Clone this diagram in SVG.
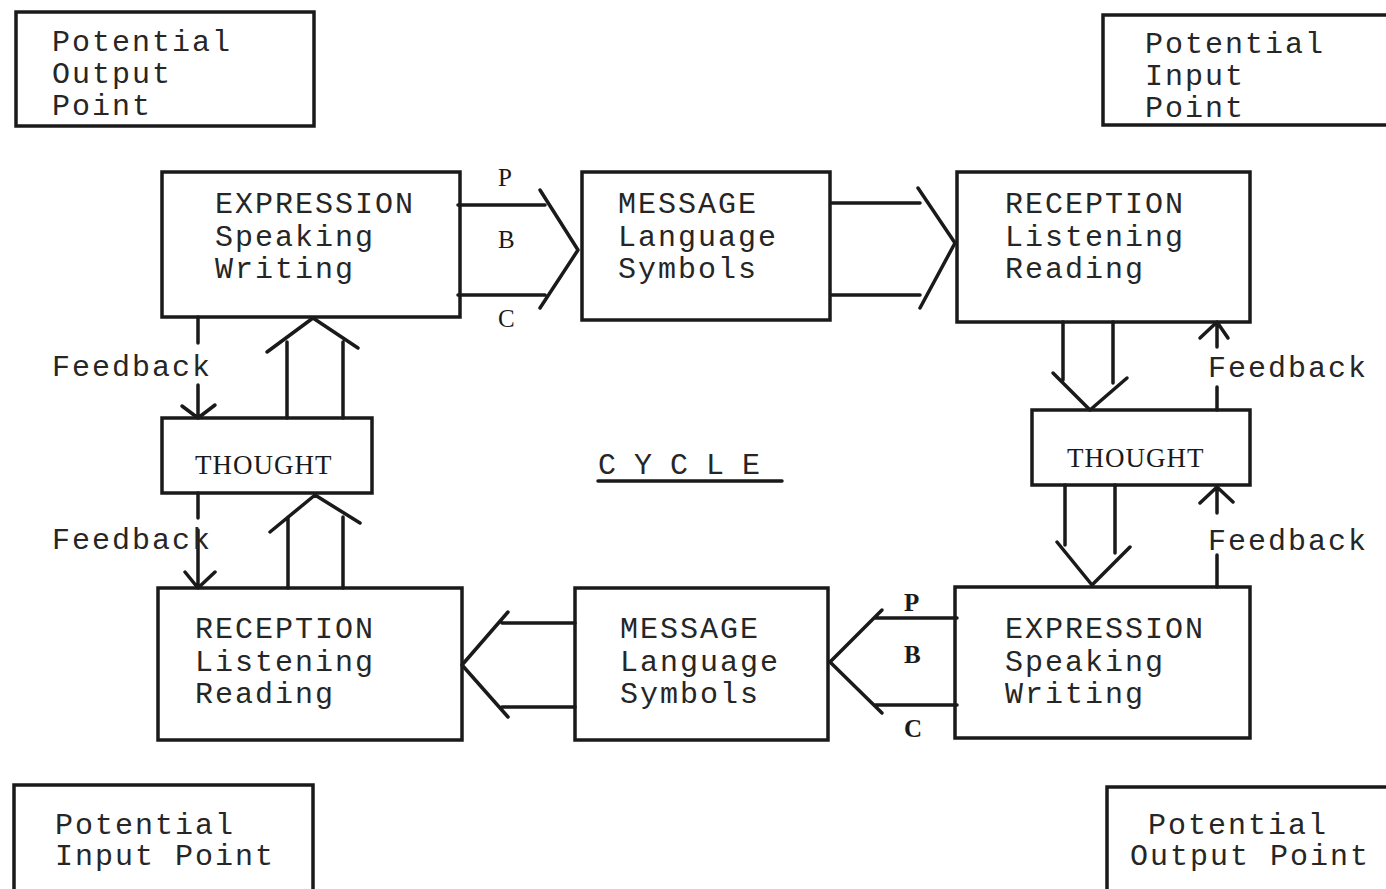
<svg xmlns="http://www.w3.org/2000/svg" width="1386" height="889" viewBox="0 0 1386 889">
<defs>
<style>
.box{fill:none;stroke:#1a1a1a;stroke-width:3.5}
.ln{fill:none;stroke:#1a1a1a;stroke-width:3.5;stroke-linecap:round;stroke-linejoin:round}
.t{font-family:"Liberation Mono","DejaVu Sans Mono",monospace;font-size:30px;letter-spacing:2px;fill:#262626}
.b{font-family:"Liberation Serif","DejaVu Serif",serif;font-size:27px;letter-spacing:1px;fill:#1a1a1a}
.s{font-family:"Liberation Serif","DejaVu Serif",serif;font-size:25px;fill:#1a1a1a}
.sb{font-family:"Liberation Serif","DejaVu Serif",serif;font-size:25px;font-weight:bold;fill:#1a1a1a}
</style>
</defs>
<rect x="0" y="0" width="1386" height="889" fill="#ffffff"/>

<g id="out-top-left">
<rect class="box" x="16" y="12" width="298" height="114"/>
<text class="t" x="52" y="51">Potential</text>
<text class="t" x="52" y="83">Output</text>
<text class="t" x="52" y="115">Point</text>
</g>
<g id="in-top-right">
<rect class="box" x="1103" y="15" width="300" height="110"/>
<text class="t" x="1145" y="53">Potential</text>
<text class="t" x="1145" y="85">Input</text>
<text class="t" x="1145" y="117">Point</text>
</g>
<g id="in-bottom-left">
<rect class="box" x="14" y="785" width="299" height="120"/>
<text class="t" x="55" y="834">Potential</text>
<text class="t" x="55" y="865">Input Point</text>
</g>
<g id="out-bottom-right">
<rect class="box" x="1107" y="787" width="300" height="120"/>
<text class="t" x="1148" y="834">Potential</text>
<text class="t" x="1130" y="865">Output Point</text>
</g>

<g id="expression-top">
<rect class="box" x="162" y="172" width="298" height="145"/>
<text class="t" x="215" y="213">EXPRESSION</text>
<text class="t" x="215" y="246">Speaking</text>
<text class="t" x="215" y="278">Writing</text>
</g>
<g id="message-top">
<rect class="box" x="582" y="172" width="248" height="148"/>
<text class="t" x="618" y="213">MESSAGE</text>
<text class="t" x="618" y="246">Language</text>
<text class="t" x="618" y="278">Symbols</text>
</g>
<g id="reception-top">
<rect class="box" x="957" y="172" width="293" height="150"/>
<text class="t" x="1005" y="213">RECEPTION</text>
<text class="t" x="1005" y="246">Listening</text>
<text class="t" x="1005" y="278">Reading</text>
</g>
<g id="thought-left">
<rect class="box" x="162" y="418" width="210" height="75"/>
<text class="b" x="195" y="474">THOUGHT</text>
</g>
<g id="thought-right">
<rect class="box" x="1032" y="410" width="218" height="75"/>
<text class="b" x="1067" y="467">THOUGHT</text>
</g>
<g id="reception-bottom">
<rect class="box" x="158" y="588" width="304" height="152"/>
<text class="t" x="195" y="638">RECEPTION</text>
<text class="t" x="195" y="671">Listening</text>
<text class="t" x="195" y="703">Reading</text>
</g>
<g id="message-bottom">
<rect class="box" x="575" y="588" width="253" height="152"/>
<text class="t" x="620" y="638">MESSAGE</text>
<text class="t" x="620" y="671">Language</text>
<text class="t" x="620" y="703">Symbols</text>
</g>
<g id="expression-bottom">
<rect class="box" x="955" y="587" width="295" height="151"/>
<text class="t" x="1005" y="638">EXPRESSION</text>
<text class="t" x="1005" y="671">Speaking</text>
<text class="t" x="1005" y="703">Writing</text>
</g>

<g id="cycle-label">
<text class="t" x="598" y="474" style="letter-spacing:0">C Y C L E</text>
<line class="ln" x1="598" y1="481" x2="782" y2="481" stroke-width="2.5"/>
</g>

<g id="connectors">
<!-- top: expression -> message -->
<path class="ln" d="M458 205 H545 M458 295 H545 M540 190 L578 250 L540 308"/>
<text class="s" x="498" y="186">P</text>
<text class="s" x="498" y="248">B</text>
<text class="s" x="498" y="327">C</text>
<!-- top: message -> reception -->
<path class="ln" d="M832 203 H920 M832 295 H920 M918 188 L955 243 L920 308"/>
<!-- bottom: expression -> message -->
<path class="ln" d="M957 618 H875 M957 705 H875 M882 610 L830 662 L882 713"/>
<text class="sb" x="904" y="611">P</text>
<text class="sb" x="904" y="663">B</text>
<text class="sb" x="904" y="737">C</text>
<!-- bottom: message -> reception -->
<path class="ln" d="M575 623 H502 M575 707 H502 M508 612 L462 665 L508 717"/>

<!-- left feedback down -->
<path class="ln" d="M198 317 V343 M198 385 V416 M182 406 L198 418 L215 405"/>
<text class="t" x="52" y="376">Feedback</text>
<path class="ln" d="M198 493 V518 M198 530 V586 M185 572 L198 588 L215 572"/>
<text class="t" x="52" y="549">Feedback</text>
<!-- left up double arrows -->
<path class="ln" d="M287 418 V342 M343 418 V342 M267 352 L313 318 L358 348"/>
<path class="ln" d="M288 588 V517 M343 588 V517 M270 532 L315 495 L360 523"/>

<!-- right down double arrows -->
<path class="ln" d="M1063 322 V380 M1113 322 V383 M1053 373 L1090 410 L1127 378"/>
<path class="ln" d="M1065 485 V545 M1115 485 V553 M1057 542 L1092 585 L1130 547"/>
<!-- right feedback up -->
<path class="ln" d="M1217 410 V387 M1217 347 V324 M1200 338 L1217 322 L1228 338"/>
<text class="t" x="1208" y="377">Feedback</text>
<path class="ln" d="M1217 587 V555 M1217 513 V488 M1200 503 L1217 487 L1233 502"/>
<text class="t" x="1208" y="550">Feedback</text>
</g>
</svg>
